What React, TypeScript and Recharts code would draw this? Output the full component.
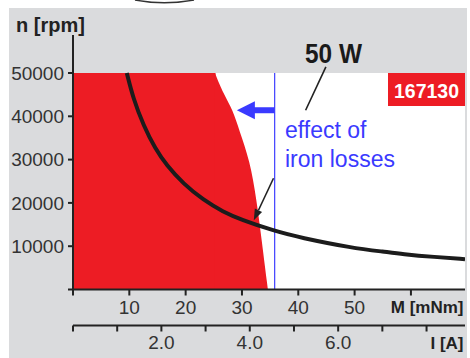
import React from 'react';
import { ComposedChart, Area, Line, XAxis, YAxis, ReferenceLine } from 'recharts';

// Red region: operating range limited by iron losses (torque mNm, speed rpm)
const ironTorque = [25.2, 26.7, 28.4, 29.5, 31.4, 32.6, 33.5, 34.6];
const ironSpeed = [50000, 45200, 41400, 36800, 29800, 20600, 11400, 0];
const fullTorque = [0, 25.3];
const fullSpeed = [50000, 50000];

// 50 W power curve
const powerTorque = [9.55, 10.7, 12.5, 14.6, 16.6, 19.6, 23.1, 26.7, 29.7, 35.8, 40.3, 49.5, 55.4, 58.4, 64.2, 69.6];
const powerSpeed = [50000, 44100, 37900, 32500, 28700, 24400, 20700, 17900, 16200, 13500, 12000, 9600, 8700, 8200, 7500, 7000];

// Plot (white) region
const plotTorque = [0, 69.6];
const plotSpeed = [50000, 50000];

const speedTicks = [0, 10000, 20000, 30000, 40000, 50000];
const torqueTicks = [0, 10, 20, 30, 40, 50, 60];
const torqueLabels = [10, 20, 30, 40, 50];
const currentTicks = [0, 1, 2, 3, 4, 5, 6, 7, 8];
const currentLabels = [2, 4, 6];

const ironLimitTorque = 35.8;
const arrowTipTorque = 29.1;
const arrowSpeed = 41400;
const leaderTorque = [44.9, 41.3, 35.6, 32.1];
const leaderSpeed = [51400, 41400, 25700, 16000];

const zip = (xs: number[], ys: number[]) => xs.map((M, i) => ({ M, n: ys[i] }));
const ironData = zip(ironTorque, ironSpeed);
const fullData = zip(fullTorque, fullSpeed);
const powerData = zip(powerTorque, powerSpeed);
const plotData = zip(plotTorque, plotSpeed);
const currentData = currentTicks.map((I) => ({ I }));

const RED = '#ed1c24';
const BLUE = '#3a3aff';
const INK = '#222';
const FONT = '"Liberation Sans", Arial, Helvetica, sans-serif';

const BlueArrow = (p: any) => {
  const { x1, y1, x2, y2 } = p;
  if (x1 == null) return null;
  const dir = x2 < x1 ? -1 : 1;
  const headLen = 18;
  const halfW = 9;
  const baseX = x2 - dir * headLen;
  return (
    <g>
      <line x1={x1} y1={y1} x2={baseX + dir * 1} y2={y2} stroke={BLUE} strokeWidth={6} />
      <polygon points={`${x2},${y2} ${baseX},${y2 - halfW} ${baseX},${y2 + halfW}`} fill={BLUE} />
    </g>
  );
};

const BlackArrow = (p: any) => {
  const { x1, y1, x2, y2 } = p;
  if (x1 == null) return null;
  const dx = x2 - x1;
  const dy = y2 - y1;
  const len = Math.sqrt(dx * dx + dy * dy) || 1;
  const ux = dx / len;
  const uy = dy / len;
  const headLen = 11;
  const halfW = 4;
  const bx = x2 - ux * headLen;
  const by = y2 - uy * headLen;
  const px = -uy;
  const py = ux;
  return (
    <g>
      <line x1={x1} y1={y1} x2={bx} y2={by} stroke={INK} strokeWidth={1.6} />
      <polygon
        points={`${x2},${y2} ${bx + px * halfW},${by + py * halfW} ${bx - px * halfW},${by - py * halfW}`}
        fill={INK}
      />
    </g>
  );
};

const Annotations = () => (
  <svg
    width={470}
    height={358}
    style={{ position: 'absolute', left: 0, top: 0, pointerEvents: 'none', fontFamily: FONT }}
  >
    <path d="M135,0 Q164,5.6 194,0" fill="none" stroke="#333" strokeWidth={1.5} />
    <text x={16} y={31.5} fontSize={20} fontWeight="bold" fill={INK}>n [rpm]</text>
    <text x={305} y={63} fontSize={27} fontWeight="bold" fill="#1a1a1a" textLength={57} lengthAdjust="spacingAndGlyphs">50 W</text>
    <text x={285} y={138.3} fontSize={23} fill={BLUE}>effect of</text>
    <text x={285} y={166.7} fontSize={23} fill={BLUE}>iron losses</text>
    <rect x={388} y={73} width={77} height={33} fill={RED} />
    <text x={426.5} y={97.5} fontSize={21} fontWeight="bold" fill="#fff" textAnchor="middle" textLength={65} lengthAdjust="spacingAndGlyphs">167130</text>
    <text x={463.5} y={313.3} fontSize={17} fontWeight="bold" fill={INK} textAnchor="end">M [mNm]</text>
    <text x={463.5} y={348.5} fontSize={17} fontWeight="bold" fill={INK} textAnchor="end">I [A]</text>
  </svg>
);

export default function App() {
  return (
    <div style={{ position: 'absolute', left: 0, top: 0, width: 470, height: 358, background: '#fff' }}>
      <div style={{ position: 'absolute', left: 9, top: 8, width: 458, height: 350, background: '#dadbdd' }} />
      <div style={{ position: 'absolute', left: 0, top: 0 }}>
        <ComposedChart
          width={470}
          height={358}
          margin={{ top: 35, right: 5, bottom: 0, left: 0 }}
          style={{ fontFamily: FONT }}
        >
          <XAxis
            xAxisId={0}
            dataKey="M"
            type="number"
            domain={[0, 69.6]}
            allowDataOverflow
            ticks={torqueTicks}
            interval={0}
            tickFormatter={(v: number) => (torqueLabels.includes(v) ? String(v) : '')}
            height={36}
            tickSize={6}
            tickMargin={5}
            axisLine={{ stroke: INK, strokeWidth: 2 }}
            tickLine={{ stroke: INK, strokeWidth: 2 }}
            tick={{ fill: '#333', fontSize: 19 }}
          />
          <XAxis
            xAxisId={1}
            dataKey="I"
            type="number"
            domain={[0, 8.87]}
            allowDataOverflow
            ticks={currentTicks}
            interval={0}
            tickFormatter={(v: number) => (currentLabels.includes(v) ? v.toFixed(1) : '')}
            height={32.5}
            tickSize={6}
            tickMargin={4}
            axisLine={{ stroke: INK, strokeWidth: 2 }}
            tickLine={{ stroke: INK, strokeWidth: 2 }}
            tick={{ fill: '#333', fontSize: 19 }}
          />
          <YAxis
            type="number"
            domain={[0, 58776]}
            allowDataOverflow
            ticks={speedTicks}
            interval={0}
            tickFormatter={(v: number) => (v === 0 ? '' : String(v))}
            width={73}
            tickSize={5}
            tickMargin={4}
            axisLine={{ stroke: INK, strokeWidth: 2 }}
            tickLine={{ stroke: INK, strokeWidth: 2 }}
            tick={{ fill: '#333', fontSize: 19 }}
          />
          <Line
            xAxisId={1}
            data={currentData}
            dataKey="n"
            stroke="none"
            dot={false}
            activeDot={false}
            isAnimationActive={false}
          />
          <Area
            xAxisId={0}
            data={plotData}
            dataKey="n"
            type="linear"
            fill="#ffffff"
            fillOpacity={1}
            stroke="none"
            isAnimationActive={false}
            dot={false}
            activeDot={false}
          />
          <Area
            xAxisId={0}
            data={fullData}
            dataKey="n"
            type="linear"
            fill={RED}
            fillOpacity={1}
            stroke="none"
            isAnimationActive={false}
            dot={false}
            activeDot={false}
          />
          <Area
            xAxisId={0}
            data={ironData}
            dataKey="n"
            type="basis"
            fill={RED}
            fillOpacity={1}
            stroke="none"
            isAnimationActive={false}
            dot={false}
            activeDot={false}
          />
          <ReferenceLine
            xAxisId={0}
            segment={[{ x: ironLimitTorque, y: 0 }, { x: ironLimitTorque, y: 50000 }]}
            stroke="#4a4aff"
            strokeWidth={1.3}
          />
          <ReferenceLine
            xAxisId={0}
            segment={[{ x: ironLimitTorque, y: arrowSpeed }, { x: arrowTipTorque, y: arrowSpeed }]}
            shape={BlueArrow}
          />
          <Line
            xAxisId={0}
            data={powerData}
            dataKey="n"
            type="basis"
            stroke="#1c1c1c"
            strokeWidth={4}
            dot={false}
            activeDot={false}
            isAnimationActive={false}
          />
          <ReferenceLine
            xAxisId={0}
            segment={[{ x: leaderTorque[0], y: leaderSpeed[0] }, { x: leaderTorque[1], y: leaderSpeed[1] }]}
            stroke={INK}
            strokeWidth={1.6}
          />
          <ReferenceLine
            xAxisId={0}
            segment={[{ x: leaderTorque[2], y: leaderSpeed[2] }, { x: leaderTorque[3], y: leaderSpeed[3] }]}
            shape={BlackArrow}
          />
        </ComposedChart>
      </div>
      <Annotations />
    </div>
  );
}
